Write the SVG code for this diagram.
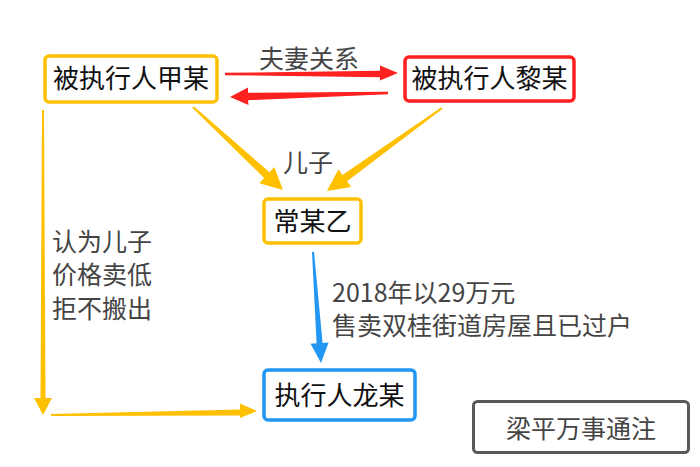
<svg xmlns="http://www.w3.org/2000/svg" width="700" height="467" viewBox="0 0 700 467">
<style>
.box{fill:#fff;stroke-width:3.5}
.o{stroke:#FFC000}
.r{stroke:#FF2020}
.b{stroke:#2196F3}
.g{stroke:#595959;stroke-width:3}
.nt{font-family:"Noto Sans CJK SC","Noto Sans",sans-serif;font-size:26px;fill:#111;text-anchor:middle}
.lt{font-family:"Noto Sans CJK SC","Noto Sans",sans-serif;font-size:25px;fill:#444}
</style>
<rect width="700" height="467" fill="#fff"/>
<g id="connectors">
<path fill="#FF2020" d="M225,72.8 L380,70.8 L380,65.5 L398,73 L380,80.5 L380,77.2 L225,75.2 Z"/>
<path fill="#FF2020" d="M388,91.8 L248,92.8 L248,87.5 L230,97 L248.5,105 L248,100.2 L388,94.2 Z"/>
<path fill="#FFC000" d="M193.7,106.3 L269.5,172.2 L274.3,167.0 L283,190 L259.3,183.2 L264.1,178.0 L192.3,107.7 Z"/>
<path fill="#FFC000" d="M441.4,107.2 L342.5,174.9 L338.4,169.2 L327,191 L351.2,187.0 L347.1,181.3 L442.6,108.8 Z"/>
<path fill="#FFC000" d="M42,110 L40.5,398 L34,398 L43,415 L52,398 L45.5,398 L44,110 Z"/>
<path fill="#FFC000" d="M51,414 L240,409.5 L240,403.5 L257,411 L240,418 L240,415.5 L51,416 Z"/>
<path fill="#2196F3" d="M314,251.9 L322.6,342.9 L328.6,342.5 L321,363 L310.6,343.7 L316.6,343.3 L312,252.1 Z"/>
<text class="lt" x="309" y="67.5" text-anchor="middle">夫妻关系</text>
<text class="lt" x="308" y="171.5" text-anchor="middle">儿子</text>
<text class="lt" x="52" y="250.5">认为儿子</text>
<text class="lt" x="52" y="284">价格卖低</text>
<text class="lt" x="52" y="317.5">拒不搬出</text>
<text class="lt" x="332" y="301.5">2018年以29万元</text>
<text class="lt" x="332" y="335">售卖双桂街道房屋且已过户</text>
</g>
<g id="n1">
<rect class="box o" x="45" y="56" width="172" height="46" rx="4"/>
<text class="nt" x="131" y="87.5">被执行人甲某</text>
</g>
<g id="n2">
<rect class="box r" x="405" y="57" width="169" height="44" rx="4"/>
<text class="nt" x="489.5" y="88">被执行人黎某</text>
</g>
<g id="n3">
<rect class="box o" x="264" y="199" width="97" height="44" rx="4"/>
<text class="nt" x="312.5" y="230.5">常某乙</text>
</g>
<g id="n4">
<rect class="box b" x="264" y="370" width="151" height="50" rx="4"/>
<text class="nt" x="339.5" y="404.5">执行人龙某</text>
</g>
<g id="n5">
<rect class="box g" x="473.5" y="401.5" width="215" height="51" rx="4"/>
<text class="lt" x="581" y="438" text-anchor="middle">梁平万事通注</text>
</g>
</svg>
